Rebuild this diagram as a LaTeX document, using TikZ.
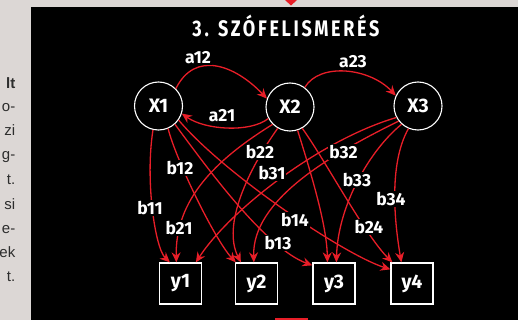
\documentclass[tikz,border=0pt]{standalone}
\usepackage{fontspec}
\setmainfont{Fira Sans}
\newfontfamily\titlefont[FakeStretch=0.8,LetterSpace=12]{Fira Sans}
\newfontfamily\sidefont{Liberation Sans}
\usetikzlibrary{arrows.meta}
\definecolor{edgered}{RGB}{232,30,40}
\definecolor{pagegray}{RGB}{220,215,213}
\definecolor{sidetext}{RGB}{45,45,45}
\begin{document}
\begin{tikzpicture}[x=1pt,y=-1pt,
  edge/.style={draw=edgered, line width=1.3pt, -{Stealth[length=10pt,width=9pt]}},
  var/.style={circle, draw=white, line width=1.1pt, minimum size=48pt, inner sep=0pt, text=white, font=\fontsize{19.5}{21}\selectfont\bfseries},
  obs/.style={rectangle, draw=white, line width=1.3pt, minimum width=42pt, minimum height=41pt, inner sep=0pt, text=white, font=\fontsize{19.5}{21}\selectfont\bfseries},
  lbl/.style={fill=black, text=white, inner sep=1pt, font=\fontsize{17.5}{19}\selectfont\bfseries},
  side/.style={anchor=base east, text=sidetext, inner sep=0pt, font=\sidefont\fontsize{15}{17}\selectfont}]

\useasboundingbox (0,0) rectangle (518,320);
\fill[pagegray] (0,0) rectangle (518,320);
\fill[black] (30.5,7) rectangle (518,320);
\fill[edgered] (285,0) -- (297,0) -- (291,5.5) -- cycle;
\fill[edgered] (275,318) rectangle (308,320);

% side text (cut-off column)
\node[side, font=\sidefont\bfseries\fontsize{15}{17}\selectfont] (s1) at (15.5,89) {lt};
\node[side] (s2) at (15.5,112) {o-};
\node[side] (s3) at (15.5,136) {zi};
\node[side] (s4) at (15.5,160) {g-};
\node[side] (s5) at (15.5,185) {t.};
\node[side] (s6) at (15.5,209) {si};
\node[side] (s7) at (15.5,233) {e-};
\node[side] (s8) at (15.5,257) {ek};
\node[side] (s9) at (15.5,281) {t.};

% title
\node[text=white, anchor=base, inner sep=0pt, font=\titlefont\bfseries\fontsize{22.5}{24}\selectfont] (title) at (286,37) {3. SZÓFELISMERÉS};

% nodes
\node[var] (X1) at (158.5,106) {X1};
\node[var] (X2) at (290,107) {X2};
\node[var] (X3) at (418,106) {X3};
\node[obs] (y1) at (180.5,283.5) {y1};
\node[obs] (y2) at (256.5,283.5) {y2};
\node[obs] (y3) at (334,283.5) {y3};
\node[obs] (y4) at (412,283.5) {y4};

% a-edges
\draw[edge] (X1.45) .. controls (195,50) and (235,65) .. (X2.160);
\draw[edge] (X2.53) .. controls (320,62) and (370,68) .. (X3.155);
\draw[edge] (X2.208) .. controls (250,133) and (205,130) .. (X1.-18);

% b-edges from X1
\draw[edge] (X1.257) .. controls (145,180) and (155,248) .. ([xshift=11pt]y1.north west);
\draw[edge] (X1.293) .. controls (176,160) and (215,240) .. ([xshift=1pt]y2.north west);
\draw[edge] (X1.-48) .. controls (205,165) and (265,248) .. ([yshift=-3pt]y3.north west);
\draw[edge] (X1.-35) .. controls (225,175) and (345,255) .. ([yshift=-7pt]y4.north west);

% b-edges from X2
\draw[edge] (X2.225) .. controls (215,160) and (175,200) .. ([xshift=17.5pt]y1.north west);
\draw[edge] (X2.240) .. controls (248,170) and (222,225) .. ([xshift=6pt]y2.north west);
\draw[edge] (X2.-72) .. controls (310,170) and (327,225) .. ([xshift=15pt]y3.north west);
\draw[edge] (X2.-60) .. controls (325,160) and (365,235) .. ([xshift=2pt]y4.north west);

% b-edges from X3
\draw[edge] (X3.208) .. controls (320,140) and (230,210) .. ([xshift=37pt]y1.north west);
\draw[edge] (X3.218) .. controls (330,155) and (252,200) .. ([xshift=19pt]y2.north west);
\draw[edge] (X3.228) .. controls (370,150) and (338,205) .. ([xshift=24pt]y3.north west);
\draw[edge] (X3.247) .. controls (388,165) and (395,225) .. ([xshift=11pt]y4.north west);

% labels
\node[lbl] (la12) at (198,58) {a12};
\node[lbl] (la23) at (353,62) {a23};
\node[lbl] (la21) at (222,116) {a21};
\node[lbl] (lb11) at (150,208) {b11};
\node[lbl] (lb12) at (180,168) {b12};
\node[lbl] (lb13) at (278,243) {b13};
\node[lbl] (lb14) at (295,220) {b14};
\node[lbl] (lb21) at (179,228) {b21};
\node[lbl] (lb22) at (260,152) {b22};
\node[lbl] (lb24) at (369,227) {b24};
\node[lbl] (lb31) at (272,173) {b31};
\node[lbl] (lb32) at (343.5,152) {b32};
\node[lbl] (lb33) at (357,180) {b33};
\node[lbl] (lb34) at (391,199) {b34};
\end{tikzpicture}
\end{document}
